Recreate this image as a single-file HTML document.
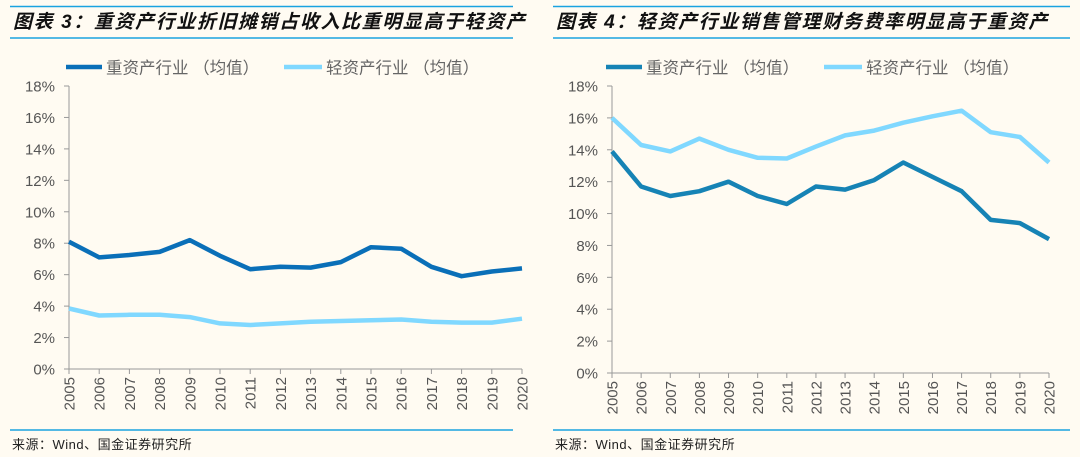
<!DOCTYPE html>
<html><head><meta charset="utf-8"><style>
html,body{margin:0;padding:0;background:#fffbf2;}
svg{display:block;}
text{font-family:"Liberation Sans","Noto Sans CJK SC",sans-serif;}
</style></head><body>
<svg id="s" width="1080" height="457" viewBox="0 0 1080 457" xmlns="http://www.w3.org/2000/svg">
<rect width="1080" height="457" fill="#fffbf2"/>
<g stroke="#1aa3e0" stroke-width="1.5">
<line x1="10" y1="6.5" x2="513" y2="6.5"/><line x1="10" y1="38" x2="513" y2="38"/>
<line x1="553" y1="6.5" x2="1070" y2="6.5"/><line x1="553" y1="38" x2="1070" y2="38"/>
<line x1="10" y1="430" x2="513" y2="430"/><line x1="553" y1="430" x2="1070" y2="430"/>
</g>
<text x="13" y="28" font-size="19" font-weight="bold" font-style="italic" letter-spacing="1.6" fill="#111" font-family="'Liberation Serif','Noto Serif CJK SC',serif">图表 3：重资产行业折旧摊销占收入比重明显高于轻资产</text>
<text x="556" y="28" font-size="19" font-weight="bold" font-style="italic" letter-spacing="1.6" fill="#111" font-family="'Liberation Serif','Noto Serif CJK SC',serif">图表 4：轻资产行业销售管理财务费率明显高于重资产</text>
<text x="12" y="449" font-size="13" fill="#222" letter-spacing="0.5">来源：Wind、国金证券研究所</text>
<text x="555" y="449" font-size="13" fill="#222" letter-spacing="0.5">来源：Wind、国金证券研究所</text>
<g id="g"></g>
</svg>
<script>
var g=document.getElementById('g'),h='';
function chart(x0,x1,y0,y18,hv,lt,hc,lc,lx){
  var sy=(y0-y18)/18,sx=(x1-x0)/15;
  h+='<line x1="'+(lx)+'" y1="67" x2="'+(lx+36)+'" y2="67" stroke="'+hc+'" stroke-width="4.5"/>';
  h+='<text x="'+(lx+40)+'" y="73.5" font-size="16.5" fill="#666">重资产行业 （均值）</text>';
  h+='<line x1="'+(lx+218)+'" y1="67" x2="'+(lx+256)+'" y2="67" stroke="'+lc+'" stroke-width="4.5"/>';
  h+='<text x="'+(lx+260)+'" y="73.5" font-size="16.5" fill="#666">轻资产行业 （均值）</text>';
  h+='<line x1="'+x0+'" y1="'+y18+'" x2="'+x0+'" y2="'+y0+'" stroke="#999" stroke-width="1"/>';
  h+='<line x1="'+x0+'" y1="'+y0+'" x2="'+x1+'" y2="'+y0+'" stroke="#999" stroke-width="1"/>';
  for(var i=0;i<=9;i++){var y=y0-i*2*sy;
    h+='<line x1="'+(x0-5)+'" y1="'+y+'" x2="'+x0+'" y2="'+y+'" stroke="#999"/>';
    h+='<text x="'+(x0-14)+'" y="'+(y+5.5)+'" font-size="15" fill="#555" text-anchor="end">'+(i*2)+'%</text>';}
  for(var j=0;j<16;j++){var x=x0+j*sx;
    h+='<line x1="'+x+'" y1="'+y0+'" x2="'+x+'" y2="'+(y0+5)+'" stroke="#999"/>';
    h+='<text transform="translate('+(x+5.5)+','+(y0+8)+') rotate(-90)" font-size="15" fill="#555" text-anchor="end">'+(2005+j)+'</text>';}
  function pl(d,c){var p=d.map(function(v,k){return (x0+k*sx).toFixed(1)+','+(y0-v*sy).toFixed(1)}).join(' ');
    h+='<polyline points="'+p+'" fill="none" stroke="'+c+'" stroke-width="4.5" stroke-linejoin="round"/>';}
  pl(lt,lc);pl(hv,hc);
}
chart(69,522,369,86,[8.1,7.1,7.25,7.45,8.2,7.2,6.35,6.5,6.45,6.8,7.75,7.65,6.5,5.9,6.2,6.4],
 [3.85,3.4,3.45,3.45,3.3,2.9,2.8,2.9,3.0,3.05,3.1,3.15,3.0,2.95,2.95,3.2],'#0a6fb8','#80d8ff',66);
chart(612,1049,373,86,[13.9,11.7,11.1,11.4,12.0,11.1,10.6,11.7,11.5,12.1,13.2,12.3,11.4,9.6,9.4,8.4],
 [16.0,14.3,13.9,14.7,14.0,13.5,13.45,14.2,14.9,15.2,15.7,16.1,16.45,15.1,14.8,13.2],'#1683b5','#80d8ff',606);
g.innerHTML=h;
</script>
</body></html>
